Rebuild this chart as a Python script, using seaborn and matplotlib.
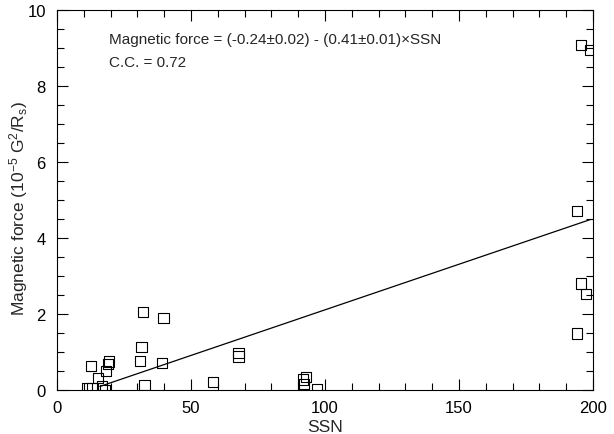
import matplotlib
matplotlib.use("Agg")
import matplotlib.pyplot as plt
import seaborn as sns
import numpy as np
import pandas as pd
from matplotlib.ticker import MultipleLocator

ssn = [12.8, 19.5, 19.1, 18.2, 15.2, 11.1, 13.3, 16.7, 17.9, 32.0, 39.8, 31.5, 31.0,
       39.2, 32.6, 67.7, 67.7, 58.3, 92.9, 91.7, 92.2, 97.1,
       195.5, 199.0, 193.9, 195.6, 197.5, 194.1]
force = [0.64, 0.75, 0.69, 0.50, 0.32, 0.05, 0.06, 0.09, 0.0, 2.06, 1.89, 1.14, 0.77,
         0.71, 0.14, 0.98, 0.88, 0.22, 0.35, 0.28, 0.15, 0.03,
         9.08, 8.94, 4.71, 2.80, 2.53, 1.49]
fit_intercept = -0.29
fit_slope = 0.0240
fit_range = [16.0, 199.0]
eq_text = "Magnetic force = (-0.24\u00b10.02) - (0.41\u00b10.01)\u00d7SSN"
cc_text = "C.C. = 0.72"

sns.set_style("ticks")
plt.rcParams['font.family'] = ['Liberation Sans', 'DejaVu Sans']
plt.rcParams['mathtext.fontset'] = 'custom'
plt.rcParams['mathtext.rm'] = 'Liberation Sans'
plt.rcParams['mathtext.it'] = 'Liberation Sans'

fig = plt.figure(figsize=(6.14, 4.35), dpi=100)
ax = fig.add_axes([0.0928, 0.1011, 0.873, 0.8736])

df = pd.DataFrame({"SSN": ssn, "F": force})
sns.scatterplot(data=df, x="SSN", y="F", ax=ax, marker="s", s=55,
                facecolor="none", edgecolor="black", linewidth=0.8, clip_on=True)
xl = np.array(fit_range)
line_df = pd.DataFrame({"SSN": xl, "F": fit_intercept + fit_slope * xl})
sns.lineplot(data=line_df, x="SSN", y="F", ax=ax, color="black", linewidth=0.9)

ax.set_xlim(0, 200)
ax.set_ylim(0, 10)
ax.xaxis.set_major_locator(MultipleLocator(50))
ax.xaxis.set_minor_locator(MultipleLocator(10))
ax.yaxis.set_major_locator(MultipleLocator(2))
ax.yaxis.set_minor_locator(MultipleLocator(0.5))
ax.tick_params(which="both", direction="in", top=True, right=True, labelsize=12,
               width=0.8, colors="black")
ax.tick_params(axis="x", pad=7)
ax.tick_params(axis="y", pad=8)
ax.tick_params(which="major", length=8)
ax.tick_params(which="minor", length=5)
for s in ax.spines.values():
    s.set_visible(True)
    s.set_linewidth(0.8)
    s.set_color("black")
ax.set_xlabel("SSN", fontsize=12.5, labelpad=3)
ax.set_ylabel(r"Magnetic force (10$^{-5}$ G$^2$/R$_s$)", fontsize=12.5)
ax.yaxis.set_label_coords(-0.05, 0.48)

ax.text(0.097, 0.905, eq_text, transform=ax.transAxes, fontsize=11, va="bottom")
ax.text(0.097, 0.845, cc_text, transform=ax.transAxes, fontsize=11, va="bottom")

fig.savefig("out.png", dpi=100)
